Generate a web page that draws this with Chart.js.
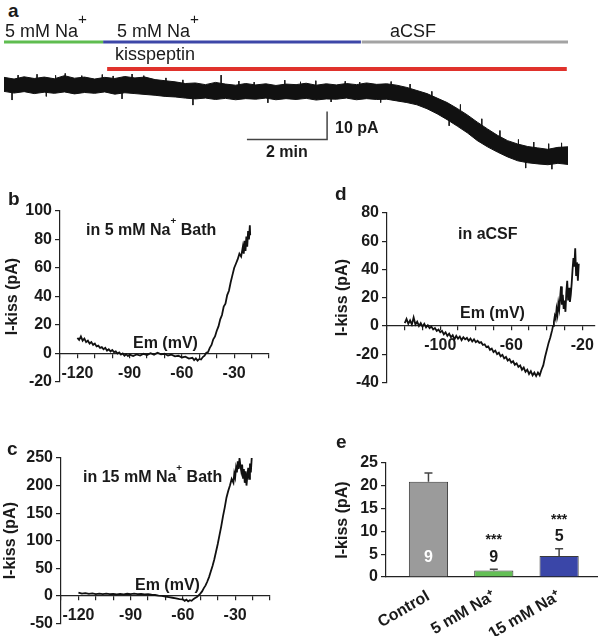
<!DOCTYPE html>
<html lang="en">
<head>
<meta charset="UTF-8">
<title>Kisspeptin current and sodium</title>
<script src="https://cdn.jsdelivr.net/npm/chart.js"></script>
<style>
  body { margin: 0; background: #fff; }
  #fig { position: relative; width: 600px; height: 636px; font-family: "Liberation Sans", Arial, sans-serif; color: #1a1a1a; overflow: hidden; }
  #fig canvas { position: absolute; }
  .t { position: absolute; white-space: nowrap; line-height: 1; }
  .lab { font-weight: bold; font-size: 19px; }
  .ann { font-weight: bold; font-size: 16px; }
  .reg { font-size: 18px; }
  sup { font-size: 62%; line-height: 0; position: relative; top: -0.5em; }
  .reg sup { font-size: 85%; top: -0.4em; }
</style>
</head>
<body>
<div id="fig">
  <canvas id="trace" width="564" height="140" style="left:4px;top:32px"></canvas>
  <canvas id="ivB" width="290" height="205" style="left:0;top:190px"></canvas>
  <canvas id="ivD" width="280" height="205" style="left:320px;top:190px"></canvas>
  <canvas id="ivC" width="290" height="196" style="left:0;top:440px"></canvas>
  <canvas id="bars" width="280" height="196" style="left:320px;top:440px"></canvas>

  <div class="t lab" style="left:8px;top:1px">a</div>
  <div class="t reg" style="left:5px;top:22px">5 mM Na<sup>+</sup></div>
  <div class="t reg" style="left:117px;top:22px">5 mM Na<sup>+</sup></div>
  <div class="t reg" style="left:390px;top:22px">aCSF</div>
  <div class="t reg" style="left:115px;top:45px">kisspeptin</div>
  <div class="t ann" style="left:335px;top:120px">10 pA</div>
  <div class="t ann" style="left:266px;top:144px">2 min</div>

  <div class="t lab" style="left:8px;top:189px">b</div>
  <div class="t ann" style="left:86px;top:222px">in 5 mM Na<sup>+</sup> Bath</div>
  <div class="t ann" style="left:133px;top:335px">Em (mV)</div>

  <div class="t lab" style="left:335px;top:184px">d</div>
  <div class="t ann" style="left:458px;top:226px">in aCSF</div>
  <div class="t ann" style="left:460px;top:305px">Em (mV)</div>

  <div class="t lab" style="left:7px;top:439px">c</div>
  <div class="t ann" style="left:83px;top:469px">in 15 mM Na<sup>+</sup> Bath</div>
  <div class="t ann" style="left:135px;top:577px">Em (mV)</div>

  <div class="t lab" style="left:336px;top:432px">e</div>
</div>
<script>
// panel a: holding current trace (upper / lower edge of the noise band), pA vs min
const traceTime = [0, 0.25, 0.5, 0.75, 1, 1.25, 1.5, 1.75, 2, 2.25, 2.5, 2.75, 3, 3.25, 3.5, 3.75,
  4, 4.25, 4.5, 4.75, 5, 5.25, 5.5, 5.75, 6, 6.25, 6.5, 6.75, 7, 7.25, 7.5, 7.75, 8, 8.25, 8.5, 8.75,
  9, 9.25, 9.5, 9.75, 10, 10.25, 10.5, 10.75, 11, 11.25, 11.5, 11.75, 12, 12.25, 12.5, 12.75, 13,
  13.25, 13.5, 13.75, 14];
const traceHigh = [3.8, 3.2, 4.0, 3.4, 3.9, 3.3, 4.4, 3.5, 3.9, 3.2, 3.8, 3.4, 4.1, 3.6, 3.9, 3.0,
  2.6, 2.2, 1.6, 1.8, 1.2, 2.0, 1.4, 1.0, 1.6, 1.1, 1.5, 0.9, 1.4, 1.2, 1.7, 1.0, 1.5, 1.1, 1.6, 1.2,
  1.8, 1.3, 1.5, 1.0, 0.2, -0.9, -2.0, -3.6, -5.2, -7.3, -9.6, -12.2, -14.6, -16.9, -18.8, -20.0,
  -20.9, -21.4, -21.9, -21.2, -21.0];
const traceLow = [-1.2, -1.8, -1.3, -2.0, -1.5, -1.9, -1.4, -2.1, -1.6, -1.9, -1.4, -2.2, -1.7, -2.0,
  -2.3, -2.6, -3.0, -3.2, -3.6, -3.9, -3.6, -4.1, -3.7, -4.2, -3.8, -4.0, -3.6, -4.2, -3.8, -4.1, -3.7,
  -4.3, -3.9, -4.0, -3.6, -4.2, -3.8, -4.1, -4.0, -4.6, -5.2, -6.0, -7.4, -9.2, -11.3, -13.6, -16.0,
  -18.8, -21.0, -22.9, -24.6, -26.0, -26.7, -27.1, -27.4, -26.9, -27.3];
// single noise spikes sticking out of the band
const spikeTime = [0.2, 0.35, 0.82, 1.05, 1.28, 1.52, 1.93, 2.44, 2.71, 2.93, 3.18, 3.47, 4.02,
  4.44, 4.69, 5.39, 5.83, 6.21, 6.55, 6.97, 7.36, 7.74, 8.12, 8.47, 8.83, 9.35, 9.61, 10.08, 10.62,
  11.05, 11.33, 11.86, 12.31, 12.77, 12.95, 13.15, 13.52, 13.6, 13.84];
const spikeLow = [-4.3, 1, 1, -3.0, 1, 1, 1, 1, 1, -3.9, 1, 1, 0, -1, -6.1, -1, -1, -1, -5.3, -1,
  -1, -1, -5.0, -1, -1, -5.2, -1, -2, -4, -13.5, -10, -15, -20, -23, -28.6, -24, -24, -29.0, -24];
const spikeHigh = [1, 4.6, 4.9, 1, 4.5, 5.2, 4.4, 4.8, 4.3, 1, 5.0, 4.4, 3.6, 2.9, -1, 4.6, 2.5, 2.1,
  -1, 2.8, 2.2, 2.6, -1, 2.4, 2.1, -1, 2.3, 1.4, -1.2, -8, -5.9, -11.0, -15.2, -18.4, -24, -19.3,
  -19.9, -24, -19.6];
// solution bars: [start, end] in min
const bathNames = ['5 mM Na+', '5 mM Na+', 'aCSF'];
const bathStart = [0, 2.46, 8.88];
const bathEnd = [2.46, 8.86, 14];
const kissStart = 2.56;
const kissEnd = 13.97;

// panel b: I-V in 5 mM Na+
const bVolt = [-120, -119, -118, -117, -116, -115, -114, -113, -112, -111, -110, -109, -108, -107,
  -106, -105, -104, -103, -102, -101, -100, -99, -98, -97, -96, -95, -94, -93, -92, -91, -90,
  -88, -86, -84, -82, -80, -78, -76, -74, -72, -70, -68, -66, -64, -62, -60, -58, -56, -54,
  -53, -52, -51, -50, -49, -48, -47, -46, -45, -44, -43, -42, -41, -40, -39, -38, -37, -36, -35,
  -34, -33, -32, -31, -30, -29, -28, -27, -26, -25,
  -24.5, -24, -23.5, -23, -22.5, -22, -21.5, -21, -20.8];
const bCurr = [11, 9.5, 12, 9, 10.5, 8, 9, 7, 8, 6, 7, 5, 5.5, 4, 4.5, 3, 4, 2, 3, 1.5, 2.5, 1, 1.5,
  0, 0.8, -0.8, 0, -1.5, -0.5, -1.8, -0.8,
  -1.8, -0.6, -1.4, -0.2, -1, 0.2, -0.8, 0.5, -0.6, -0.2, -1.4, -0.8, -2, -1.6, -2.8, -2.2, -3.6, -3,
  -4.6, -3.4, -5, -3.8, -4.2, -2.5, -1.5, 0.5, 1, 4, 6, 10, 12, 16, 19, 24, 27, 33, 35, 41, 44, 50,
  55, 60, 63, 66, 70, 68, 75,
  70, 79, 72, 82, 75, 86, 80, 90, 83];

// panel c: I-V in 15 mM Na+
const cVolt = [-120, -118, -116, -114, -112, -110, -108, -106, -104, -102, -100, -98, -96, -94, -92,
  -90, -88, -86, -84, -82, -80, -78, -76, -74, -72, -70, -68, -66, -64, -62, -60,
  -59, -58, -57, -56, -55, -54, -53, -52, -51, -50, -49, -48, -47, -46, -45, -44, -43, -42, -41,
  -40, -39, -38, -37, -36, -35, -34, -33, -32, -31,
  -30.5, -30, -29.5, -29, -28.5, -28, -27.5, -27, -26.5, -26, -25.5, -25, -24.5, -24, -23.5, -23,
  -22.5, -22, -21.5, -21, -20.5];
const cCurr = [6, 4, 5, 3.5, 4.5, 3, 4, 3, 4, 3, 3.5, 2.5, 3.5, 2.8, 3.8, 3, 4, 3, 3.5, 2.5, 3, 2,
  1.5, 0.5, 0, -1.5, -2.5, -3.5, -4.5, -6, -6.5,
  -9, -7, -10, -8, -9, -6, -4, -2, 1, 4, 8, 14, 19, 26, 34, 44, 54, 66, 80, 94, 110, 126, 144, 160,
  178, 190, 200, 212, 205,
  222, 215, 232, 224, 244, 230, 250, 236, 226, 238, 214, 230, 205, 226, 200, 218, 232, 212, 240,
  224, 250];

// panel d: I-V in aCSF
const dVolt = [-120, -119, -118, -117, -116, -115, -114, -113, -112, -111, -110, -109, -108, -107,
  -106, -105, -104, -103, -102, -101, -100, -99, -98, -97, -96, -95, -94, -93, -92, -91, -90, -89,
  -88, -87, -86, -85, -84, -83, -82, -81, -80, -79, -78, -77, -76, -75, -74, -73, -72, -71, -70,
  -69, -68, -67, -66, -65, -64, -63, -62, -61, -60, -59, -58, -57, -56, -55, -54, -53, -52, -51,
  -50, -49, -48, -47, -46, -45, -44, -43, -42, -41, -40, -39, -38, -37,
  -36.5, -36, -35.5, -35, -34.5, -34, -33.5, -33, -32.5, -32, -31.5, -31, -30.5, -30, -29.5, -29,
  -28.5, -28, -27.5, -27, -26.5, -26, -25.5, -25, -24.5, -24, -23.5, -23, -22.5, -22];
const dCurr = [2, 5, 1.5, 4, 1, 6, 1, 3, 0, 2, -0.5, 1.5, -1, 0.5, -1.5, -0.5, -2.5, -1.5, -3.5,
  -2.5, -4.5, -3.5, -6, -4.5, -7, -5.5, -8, -6.5, -9.5, -7, -9, -7.5, -10, -8, -9.5, -8.5, -10.5,
  -9, -11, -9.5, -11.5, -10.5, -12, -11.5, -13.5, -13, -15, -14.5, -17, -16, -18.5, -17.5, -20,
  -19, -21.5, -20.5, -23, -22, -24.5, -23.5, -26, -25, -27.5, -26.5, -29, -28, -31, -29.5, -32.5,
  -31, -34, -32, -35, -33, -35.5, -33, -35, -31, -28, -22, -17, -12, -8, -3,
  0, 3, 7, 5, 12, 8, 16, 12, 20, 28, 15, 22, 12, 18, 10, 24, 32, 18, 27, 17, 22, 30, 40, 48, 42,
  55, 36, 45, 32, 44];

// panel e: mean I-kiss, SEM, n
const groups = ['Control', '5 mM Na\u207A', '15 mM Na\u207A'];
const kissMean = [20.9, 1.4, 4.6];
const kissSem = [1.9, 0.3, 1.6];
const cellCount = [9, 9, 5];
const signif = ['', '***', '***'];

Chart.defaults.font.family = '"Liberation Sans", Arial, sans-serif';
Chart.defaults.font.size = 16;
Chart.defaults.font.weight = 'bold';
Chart.defaults.color = '#1a1a1a';

const base = {
  responsive: false,
  animation: false,
  devicePixelRatio: 1,
  plugins: { legend: { display: false }, tooltip: { enabled: false } }
};

// ---- a ----
const pts = (xs, ys) => xs.map((x, i) => ({ x: x, y: ys[i] }));
const spikes = [];
spikeTime.forEach((t, i) => {
  spikes.push({ x: t, y: spikeHigh[i] }, { x: t, y: spikeLow[i] }, { x: t, y: null });
});
const bathColors = ['#5fbd50', '#3d47a8', '#a3a3a3'];
const bathLevel = 16.4;
const seg = (a, b, y) => [{ x: a, y: y }, { x: b, y: y }];
const traceSets = [
  { data: pts(traceTime, traceHigh), borderColor: '#111', backgroundColor: '#111', fill: '+1', borderWidth: 1 },
  { data: pts(traceTime, traceLow), borderColor: '#111', borderWidth: 1 },
  { data: spikes, borderColor: '#1a1a1a', borderWidth: 1, spanGaps: false }
];
bathNames.forEach((name, i) => {
  traceSets.push({ label: name, data: seg(bathStart[i], bathEnd[i], bathLevel), borderColor: bathColors[i], borderWidth: 3 });
});
traceSets.push({ label: 'kisspeptin', data: seg(kissStart, kissEnd, 6.8), borderColor: '#e0322c', borderWidth: 4 });
// scale bar: 2 min x 10 pA
traceSets.push({ data: [{ x: 6.03, y: -18.4 }, { x: 8.02, y: -18.4 }, { x: 8.02, y: -8.4 }], borderColor: '#444', borderWidth: 1.5 });
traceSets.forEach(d => { d.pointRadius = 0; d.tension = 0; d.clip = false; });

new Chart(document.getElementById('trace'), {
  type: 'line',
  data: { datasets: traceSets },
  options: Object.assign({}, base, {
    layout: { padding: 0 },
    scales: {
      x: { type: 'linear', min: 0, max: 14, display: false },
      y: { min: -30, max: 20, display: false }
    }
  })
});

// ---- b, c, d ----
function ivChart(id, volts, currents, yr, xr, xLabels, frame) {
  return new Chart(document.getElementById(id), {
    type: 'line',
    data: { datasets: [{ data: pts(volts, currents), borderColor: '#111', borderWidth: 1.8, pointRadius: 0, tension: 0, clip: false }] },
    options: Object.assign({}, base, {
      layout: { padding: frame.pad },
      scales: {
        x: {
          type: 'linear', position: { y: 0 }, min: xr[0], max: xr[1],
          border: { color: '#222', width: 1.2 },
          grid: { drawOnChartArea: false, tickLength: 4, color: '#222', lineWidth: 1.2 },
          ticks: {
            stepSize: 10, includeBounds: false, autoSkip: false, maxRotation: 0, padding: 6,
            callback: v => xLabels.includes(Math.round(v)) ? String(Math.round(v)) : ''
          }
        },
        y: {
          min: yr[0], max: yr[1],
          afterFit: s => { s.width = frame.yWidth; },
          border: { color: '#222', width: 1.2 },
          grid: { drawOnChartArea: false, tickLength: 5, color: '#222', lineWidth: 1.2 },
          ticks: { stepSize: yr[2], padding: 3 },
          title: { display: true, text: 'I-kiss (pA)', font: { size: 16, weight: 'bold' }, padding: { top: frame.titlePad, bottom: 0 } }
        }
      }
    })
  });
}

ivChart('ivB', bVolt, bCurr, [-20, 100, 20], [-130, -10], [-120, -90, -60, -30],
  { pad: { left: 0, top: 21, right: 21, bottom: 13 }, yWidth: 60, titlePad: 3 });
ivChart('ivC', cVolt, cCurr, [-50, 250, 50], [-130, -10], [-120, -90, -60, -30],
  { pad: { left: 0, top: 18, right: 20, bottom: 6 }, yWidth: 61, titlePad: 1 });
ivChart('ivD', dVolt, dCurr, [-40, 80, 20], [-130, -13], [-100, -60, -20],
  { pad: { left: 0, top: 23, right: 2, bottom: 12 }, yWidth: 67, titlePad: 13 });

// ---- e ----
const barExtras = {
  id: 'barExtras',
  afterDatasetsDraw(chart) {
    const ctx = chart.ctx;
    const y = chart.scales.y;
    const meta = chart.getDatasetMeta(0);
    ctx.save();
    meta.data.forEach((bar, i) => {
      const top = y.getPixelForValue(kissMean[i] + kissSem[i]);
      ctx.strokeStyle = '#444';
      ctx.lineWidth = 1.5;
      ctx.beginPath();
      ctx.moveTo(bar.x, bar.y);
      ctx.lineTo(bar.x, top);
      ctx.moveTo(bar.x - 4, top);
      ctx.lineTo(bar.x + 4, top);
      ctx.stroke();
      ctx.textAlign = 'center';
      ctx.textBaseline = 'middle';
      ctx.font = 'bold 16px "Liberation Sans", Arial, sans-serif';
      if (i === 0) {
        ctx.fillStyle = '#fff';
        ctx.fillText(String(cellCount[i]), bar.x, y.getPixelForValue(0) - 19);
      } else {
        ctx.fillStyle = '#1a1a1a';
        ctx.fillText(String(cellCount[i]), bar.x, top - 12);
        ctx.font = 'bold 14px "Liberation Sans", Arial, sans-serif';
        ctx.fillText(signif[i], bar.x, top - 29);
      }
    });
    ctx.restore();
  }
};

new Chart(document.getElementById('bars'), {
  type: 'bar',
  data: {
    datasets: [{
      data: kissMean.map((m, i) => ({ x: i, y: m })),
      backgroundColor: ['#9b9b9b', '#63bf55', '#3a46a8'],
      borderColor: '#3a3a3a', borderWidth: 1,
      barPercentage: 0.6, categoryPercentage: 1
    }]
  },
  options: Object.assign({}, base, {
    layout: { padding: { left: 0, top: 23, right: 3, bottom: 0 } },
    scales: {
      x: {
        type: 'linear', min: -0.65, max: 2.58, offset: false,
        afterFit: s => { s.height = 59; },
        border: { color: '#222', width: 1.2 },
        grid: { display: false, offset: false },
        ticks: {
          stepSize: 1, includeBounds: false, autoSkip: false, minRotation: 30, maxRotation: 30, padding: 2,
          callback: v => groups[v] || ''
        }
      },
      y: {
        min: 0, max: 25,
        afterFit: s => { s.width = 66; },
        border: { color: '#222', width: 1.2 },
        grid: { drawOnChartArea: false, tickLength: 5, color: '#222', lineWidth: 1.2 },
        ticks: { stepSize: 5, padding: 3 },
        title: { display: true, text: 'I-kiss (pA)', font: { size: 16, weight: 'bold' }, padding: { top: 13, bottom: 0 } }
      }
    }
  }),
  plugins: [barExtras]
});
</script>
</body>
</html>
